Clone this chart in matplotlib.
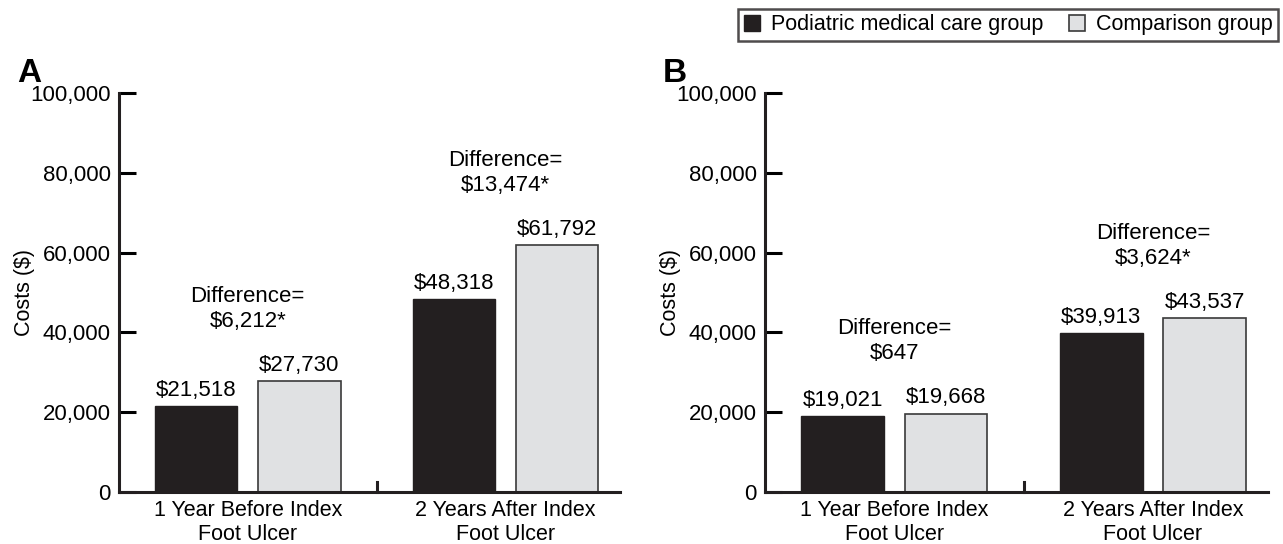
import numpy as np
import matplotlib.pyplot as plt
from matplotlib.patches import Patch

plt.rcParams['font.family'] = ['Liberation Sans', 'DejaVu Sans']

periods = ["1 Year Before Index\nFoot Ulcer", "2 Years After Index\nFoot Ulcer"]
groups = ["Podiatric medical care group", "Comparison group"]
panels = ["A", "B"]

# costs per panel: [podiatric, comparison] for each period
podiatric = [[21518, 48318], [19021, 39913]]
comparison = [[27730, 61792], [19668, 43537]]
significant = [[True, True], [False, True]]

yticks = [0, 20000, 40000, 60000, 80000, 100000]

dark = '#231f20'
light = '#e0e1e3'

fig = plt.figure(figsize=(12.83, 5.44), dpi=100)
axes = [fig.add_axes([119/1283, 52/544, 501/1283, 399/544]),
        fig.add_axes([765/1283, 52/544, 503/1283, 399/544])]

x = np.arange(len(periods))
w = 0.32
off = 0.2

for k, ax in enumerate(axes):
    ax.bar(x - off, podiatric[k], w, color=dark, edgecolor=dark, linewidth=1)
    ax.bar(x + off, comparison[k], w, color=light, edgecolor='#3a3a3a', linewidth=1.2)

    for i in range(len(periods)):
        for xv, v in [(x[i] - off, podiatric[k][i]), (x[i] + off, comparison[k][i])]:
            ax.text(xv, v + 1300, '${:,}'.format(v), ha='center', va='bottom', fontsize=16)
        d = comparison[k][i] - podiatric[k][i]
        star = '*' if significant[k][i] else ''
        top = max(podiatric[k][i], comparison[k][i])
        ax.text(x[i], top + 12300, 'Difference=\n${:,}{}'.format(d, star),
                ha='center', va='bottom', fontsize=16, linespacing=1.25)

    ax.set_xlim(-0.5, 1.445)
    ax.set_ylim(0, 100000)
    ax.set_yticks(yticks)
    ax.set_yticklabels(['{:,}'.format(t) for t in yticks])
    ax.set_xticks(x)
    ax.set_xticklabels(periods, linespacing=1.15)
    ax.tick_params(axis='x', length=0, pad=6, labelsize=15.5)
    ax.tick_params(axis='y', direction='in', length=12, width=2.2, pad=6, labelsize=16)
    # small divider tick between the two periods
    ax.plot([0.5, 0.5], [0, 2600], color=dark, lw=2.2, clip_on=False)
    for s in ['top', 'right']:
        ax.spines[s].set_visible(False)
    for s in ['left', 'bottom']:
        ax.spines[s].set_linewidth(2.2)
        ax.spines[s].set_color(dark)
    ax.set_ylabel('Costs ($)', fontsize=15.5)
    ax.yaxis.set_label_coords(-0.167, 0.5)
    ax.text(-0.18, 1.05, panels[k], transform=ax.transAxes, fontsize=24,
            fontweight='bold', ha='center', va='center')

handles = [Patch(facecolor=dark, edgecolor=dark),
           Patch(facecolor=light, edgecolor='#3a3a3a', linewidth=1.2)]
leg = fig.legend(handles, groups, ncol=2, loc='upper right',
                 bbox_to_anchor=(1278/1283, 1 - 9/544), fontsize=15.5,
                 frameon=True, fancybox=False, edgecolor=dark,
                 handlelength=0.75, handleheight=0.75, handletextpad=0.5,
                 columnspacing=1.2, borderpad=0.25, borderaxespad=0)
leg.get_frame().set_linewidth(1.8)

fig.savefig('out.png', dpi=100)
